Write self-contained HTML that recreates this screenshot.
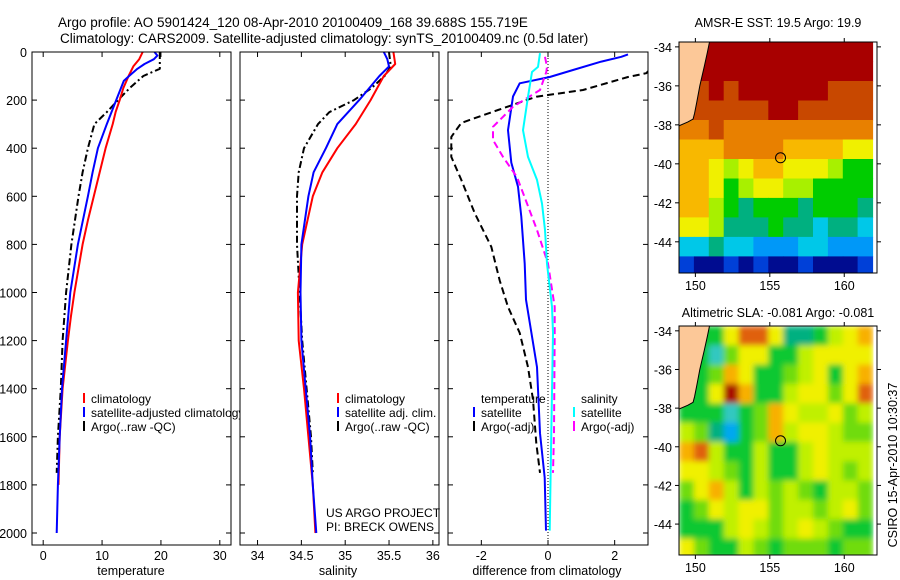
<!DOCTYPE html>
<html><head><meta charset="utf-8">
<style>
html,body{margin:0;padding:0;background:#fff;}
svg{display:block;font-family:"Liberation Sans",sans-serif;}
</style></head>
<body>
<svg id="fig" width="900" height="580" viewBox="0 0 900 580" xmlns="http://www.w3.org/2000/svg">
<defs>
<filter id="smooth" x="0" y="0" width="1" height="1" filterUnits="objectBoundingBox"><feGaussianBlur stdDeviation="3" edgeMode="duplicate"/></filter>
</defs>
<text x="58" y="27" font-size="13.5">Argo profile: AO 5901424_120 08-Apr-2010 20100409_168 39.688S 155.719E</text>
<text x="60" y="43" font-size="13.5">Climatology: CARS2009. Satellite-adjusted climatology: synTS_20100409.nc (0.5d later)</text>
<text x="778" y="27" font-size="12.5" text-anchor="middle">AMSR-E SST: 19.5 Argo: 19.9</text>
<text x="778" y="317" font-size="12.5" text-anchor="middle">Altimetric SLA: -0.081 Argo: -0.081</text>
<text transform="translate(897,465) rotate(-90)" font-size="12.5" text-anchor="middle">CSIRO 15-Apr-2010 10:30:37</text>
</svg>
<script>
// ---------- data ----------
const depthTicks=[0,200,400,600,800,1000,1200,1400,1600,1800,2000];
const tempTicks=[0,10,20,30];
const salTicks=[34,34.5,35,35.5,36];
const diffTicks=[-2,0,2];
const tempClimD=[0,30,60,100,150,200,250,300,400,500,600,700,800,900,1000,1100,1200,1400,1600,1800];
const tempClimV=[16.9,16.3,15.3,14.5,13.6,13.0,12.3,11.8,10.6,9.6,8.6,7.6,6.7,6.0,5.3,4.7,4.2,3.3,2.8,2.6];
const tempSatD=[0,15,30,50,70,100,120,200,300,400,500,600,800,1000,1200,1400,1600,1800,2000];
const tempSatV=[18.9,19.4,18.8,17.2,16.0,14.6,13.7,12.4,10.8,9.3,8.4,7.6,5.9,4.6,3.9,3.2,2.8,2.5,2.3];
const tempArgoD=[0,70,100,150,200,250,300,400,500,600,800,1000,1200,1400,1600,1750];
const tempArgoV=[19.8,19.8,17.0,14.7,12.7,10.8,8.7,7.6,6.7,6.0,4.8,3.9,3.3,3.0,2.5,2.3];
const salClimD=[0,50,100,200,300,400,500,600,700,800,1000,1200,1400,1600,1800,2000];
const salClimV=[35.55,35.57,35.44,35.29,35.12,34.91,34.74,34.63,34.57,34.51,34.46,34.47,34.53,34.58,34.63,34.66];
const salSatD=[0,30,60,100,200,300,400,500,600,700,800,1000,1200,1400,1600,1800,2000];
const salSatV=[35.44,35.48,35.5,35.39,35.16,34.91,34.78,34.64,34.58,34.54,34.5,34.49,34.5,34.55,34.6,34.63,34.67];
const salArgoD=[0,60,100,150,200,250,300,400,500,600,800,1000,1200,1400,1600,1750];
const salArgoV=[35.5,35.52,35.45,35.3,35.1,34.82,34.69,34.53,34.47,34.45,34.45,34.48,34.51,34.56,34.61,34.63];
const dTempSatD=[10,20,40,75,104,130,185,325,460,560,685,880,1030,1310,1585,1770,1990];
const dTempSatV=[2.4,2.2,1.6,0.75,0.05,-0.85,-1.05,-1.2,-1.1,-0.9,-0.8,-0.7,-0.66,-0.33,-0.24,-0.1,-0.06];
const dTempArgoD=[0,50,88,104,158,186,241,295,353,436,532,670,810,950,1060,1168,1310,1446,1627,1750];
const dTempArgoV=[3.4,3.2,2.95,2.4,1.05,-0.35,-1.5,-2.6,-2.9,-2.9,-2.6,-2.2,-1.7,-1.45,-1.2,-0.85,-0.6,-0.45,-0.35,-0.24];
const dSalSatD=[5,62,83,186,325,436,532,630,740,880,1060,1168,1585,1990];
const dSalSatV=[-0.24,-0.3,-0.48,-0.6,-0.75,-0.6,-0.33,-0.18,-0.09,-0.03,0.12,0.15,0.1,0.05];
const dSalArgoD=[20,62,83,158,228,311,366,436,520,630,740,880,1060,1168,1585,1750];
const dSalArgoV=[-0.09,-0.03,-0.05,-0.24,-1.05,-1.65,-1.65,-1.35,-0.93,-0.63,-0.33,0,0.2,0.2,0.18,0.15];
// maps: 13 cols (1 deg from 148.9E), 12 rows (1 deg from 33.75S)
const sstGrid=[
[11,11,11,11,11,11,11,11,11,11,11,11,11],
[11,11,11,11,11,11,11,11,11,11,11,11,11],
[11,10,11,10,11,11,11,11,11,11,10,10,10],
[10,10,10,10,10,10,11,11,10,10,10,10,10],
[9,9,10,9,9,9,9,9,9,9,9,9,9],
[8,8,8,9,9,9,9,8,8,8,8,7,7],
[8,8,7,6,7,8,8,7,7,7,6,5,5],
[8,8,7,5,6,7,7,6,6,5,5,5,5],
[8,8,6,5,4,5,5,5,4,5,5,5,4],
[7,7,6,4,4,4,5,4,4,3,4,4,3],
[3,3,4,3,3,2,2,2,3,3,2,2,2],
[1,0,0,1,0,1,0,0,1,0,0,0,1]];
const sstColors=["#000c90","#0040d8","#0098f8","#00c8e8","#00b080","#00cc00","#a8f000","#f0f000","#f8b800","#e88000","#c84800","#a80000"];
const slaGrid=[
[3,3,3,6,8,8,6,2,2,3,5,6,7],
[3,3,1,4,6,6,3,3,5,6,6,6,6],
[3,3,4,7,6,3,3,4,5,6,3,6,7],
[3,3,6,9,7,3,3,5,6,6,4,6,8],
[3,3,3,1,3,4,7,6,5,5,6,4,5],
[5,4,2,0,3,4,7,5,6,6,5,4,4],
[7,8,5,3,3,5,3,3,5,6,5,5,5],
[6,6,5,4,3,5,3,3,5,6,5,4,5],
[4,6,7,5,3,5,4,5,4,3,5,5,4],
[3,4,6,5,6,6,4,5,5,4,5,6,4],
[3,3,3,5,6,5,4,5,6,5,4,3,3],
[6,4,3,3,5,4,3,4,4,4,3,4,4]];
const slaColors=["#00a8f0","#30c8c0","#00b080","#10c830","#70dc10","#c0f000","#f0f000","#f8b000","#e06010","#a81000"];
const coastLon=[150.95,150.8,150.6,150.3,150.1,149.95,149.85,149.5,148.9];
const coastLat=[-33.75,-34.3,-35.0,-36.0,-36.8,-37.4,-37.7,-37.85,-38.05];
const argoLon=155.72, argoLat=-39.69;

// ---------- drawing ----------
const NS="http://www.w3.org/2000/svg";
const svg=document.getElementById('fig');
function mk(tag,attrs,parent){const e=document.createElementNS(NS,tag);for(const k in attrs)e.setAttribute(k,attrs[k]);(parent||svg).appendChild(e);return e;}
const yD=d=>52+d*0.2405;
const PANEL_TOP=52, PANEL_BOT=545;

function panel(x0,x1,xmin,xmax,name){
  const xs=v=>x0+(v-xmin)/(xmax-xmin)*(x1-x0);
  const g=mk('g',{});
  
  
  const bg=mk('rect',{x:x0,y:PANEL_TOP,width:x1-x0,height:PANEL_BOT-PANEL_TOP,fill:'#fff'},g);
  
  
  const clipId=name+'-clip';
  const cp=mk('clipPath',{id:clipId},g);
  mk('rect',{x:x0,y:PANEL_TOP,width:x1-x0,height:PANEL_BOT-PANEL_TOP},cp);
  const inner=mk('g',{'clip-path':'url(#'+clipId+')'},g);
  return {g,inner,xs,x0,x1};
}
function frame(p,xt,name){
  const r=mk('rect',{x:p.x0,y:PANEL_TOP,width:p.x1-p.x0,height:PANEL_BOT-PANEL_TOP,fill:'none',stroke:'#000','stroke-width':1},p.g);
  
  
  depthTicks.forEach(d=>{
    mk('line',{x1:p.x0,x2:p.x0+5,y1:yD(d),y2:yD(d),stroke:'#000'},p.g);
    mk('line',{x1:p.x1,x2:p.x1-5,y1:yD(d),y2:yD(d),stroke:'#000'},p.g);
  });
  xt.forEach(v=>{
    const x=p.xs(v);
    mk('line',{x1:x,x2:x,y1:PANEL_BOT,y2:PANEL_BOT-5,stroke:'#000'},p.g);
    mk('line',{x1:x,x2:x,y1:PANEL_TOP,y2:PANEL_TOP+5,stroke:'#000'},p.g);
    const t=mk('text',{x:x,y:560,'font-size':12.5,'text-anchor':'middle'},p.g);
    t.textContent=String(v);
    
    
  });
}
function line(p,D,V,color,dash,name,w){
  const pts=D.map((d,i)=>p.xs(V[i]).toFixed(1)+','+yD(d).toFixed(1)).join(' ');
  const a={points:pts,fill:'none',stroke:color,'stroke-width':w||2,'stroke-linejoin':'round'};
  if(dash)a['stroke-dasharray']=dash;
  const e=mk('polyline',a,p.inner);
  
  
}
function legend(p,x,y,color,label,name){
  const b=mk('line',{x1:x,x2:x,y1:y-10,y2:y,stroke:color,'stroke-width':2},p.g);
  
  
  const t=mk('text',{x:x+7,y:y,'font-size':12},p.g);
  t.textContent=label;
  
  
}
function txt(x,y,s,name,anchor,size){
  const t=mk('text',{x:x,y:y,'font-size':size||12.5,'text-anchor':anchor||'start'});
  t.textContent=s;
  
  
}

// depth labels
depthTicks.forEach(d=>{
  const t=mk('text',{x:27,y:yD(d)+5,'font-size':12.5,'text-anchor':'end'});
  t.textContent=String(d);
  
  
});

// panel 1 temperature
const p1=panel(32,231,-1.9,31.9,'temperature-panel');
line(p1,tempArgoD,tempArgoV,'#000','7,3,2,3','temp-argo-line');
line(p1,tempClimD,tempClimV,'#ff0000',null,'temp-climatology-line');
line(p1,tempSatD,tempSatV,'#0000ff',null,'temp-satellite-line');
legend(p1,84,403,'#ff0000','climatology','legend-entry-climatology');
legend(p1,84,417,'#0000ff','satellite-adjusted climatology','legend-entry-satellite-adjusted');
legend(p1,84,431,'#000','Argo(..raw -QC)','legend-entry-argo');
frame(p1,tempTicks,'temperature-panel');

// panel 2 salinity
const p2=panel(240,439,33.8,36.07,'salinity-panel');
line(p2,salArgoD,salArgoV,'#000','7,3,2,3','sal-argo-line');
line(p2,salClimD,salClimV,'#ff0000',null,'sal-climatology-line');
line(p2,salSatD,salSatV,'#0000ff',null,'sal-satellite-line');
legend(p2,338,403,'#ff0000','climatology','legend-entry-sal-climatology');
legend(p2,338,417,'#0000ff','satellite adj. clim.','legend-entry-sal-satellite');
legend(p2,338,431,'#000','Argo(..raw -QC)','legend-entry-sal-argo');
frame(p2,salTicks,'salinity-panel');
txt(326,517,'US ARGO PROJECT','credit-project','start',12);
txt(326,531,'PI: BRECK OWENS','credit-pi','start',12);

// panel 3 difference
const p3=panel(448,648,-3,3,'difference-panel');
const zl=mk('line',{x1:p3.xs(0),x2:p3.xs(0),y1:PANEL_TOP,y2:PANEL_BOT,stroke:'#000','stroke-dasharray':'1,2'},p3.inner);


line(p3,dTempArgoD,dTempArgoV,'#000','7,4','diff-temp-argo-line');
line(p3,dTempSatD,dTempSatV,'#0000ff',null,'diff-temp-satellite-line');
line(p3,dSalArgoD,dSalArgoV,'#ff00ff','7,4','diff-sal-argo-line');
line(p3,dSalSatD,dSalSatV,'#00ffff',null,'diff-sal-satellite-line');
const lt=mk('text',{x:481,y:403,'font-size':12},p3.g);lt.textContent='temperature';


legend(p3,474,417,'#0000ff','satellite','legend-entry-diff-temp-satellite');
legend(p3,474,431,'#000','Argo(-adj)','legend-entry-diff-temp-argo');
const ls=mk('text',{x:581,y:403,'font-size':12},p3.g);ls.textContent='salinity';


legend(p3,574,417,'#00ffff','satellite','legend-entry-diff-sal-satellite');
legend(p3,574,431,'#ff00ff','Argo(-adj)','legend-entry-diff-sal-argo');
frame(p3,diffTicks,'difference-panel');

txt(131,575,'temperature','x-axis-title-temperature','middle');
txt(338,575,'salinity','x-axis-title-salinity','middle');
txt(547,575,'difference from climatology','x-axis-title-difference','middle');

// maps
function drawMap(top,bot,grid,colors,name,smooth){
  const L=679,R=877,lon0=148.9,lon1=162.2,lat0=-33.75,lat1=-45.6;
  const xs=lo=>L+(lo-lon0)/(lon1-lon0)*(R-L);
  const ys=la=>top+(la-lat0)/(lat1-lat0)*(bot-top);
  const g=mk('g',{});
  
  
  const cid=name+'-clip';
  const cp=mk('clipPath',{id:cid},g);
  mk('rect',{x:L,y:top,width:R-L,height:bot-top},cp);
  const inner=mk('g',{'clip-path':'url(#'+cid+')'},g);
  const cells=mk('g',smooth?{filter:'url(#smooth)'}:{},inner);
  grid.forEach((row,r)=>row.forEach((v,c)=>{
    const x=xs(lon0+c),y=ys(lat0-r);
    const cell=mk('rect',{x:x.toFixed(1),y:y.toFixed(1),width:(xs(lon0+c+1)-x+0.6).toFixed(1),height:(ys(lat0-r-1)-y+0.6).toFixed(1),fill:colors[v]},cells);
    
    
  }));
  let pts=coastLon.map((lo,i)=>xs(lo).toFixed(1)+','+ys(coastLat[i]).toFixed(1));
  const land=mk('polygon',{points:pts.join(' ')+' '+xs(lon0)+','+ys(lat0),fill:'#fcc898',stroke:'#000','stroke-width':1},inner);
  
  
  const mkr=mk('circle',{cx:xs(argoLon),cy:ys(argoLat),r:5,fill:'none',stroke:'#000'},inner);
  
  
  mk('rect',{x:L,y:top,width:R-L,height:bot-top,fill:'none',stroke:'#000'},g);
  [150,155,160].forEach(lo=>{
    const x=xs(lo);
    mk('line',{x1:x,x2:x,y1:top,y2:top-4,stroke:'#000'},g);
    mk('line',{x1:x,x2:x,y1:bot,y2:bot+4,stroke:'#000'},g);
    const t=mk('text',{x:x,y:bot+17,'font-size':12.5,'text-anchor':'middle'},g);
    t.textContent=String(lo);
    
    
  });
  [-34,-36,-38,-40,-42,-44].forEach(la=>{
    const y=ys(la);
    mk('line',{x1:L,x2:L-4,y1:y,y2:y,stroke:'#000'},g);
    mk('line',{x1:R,x2:R+4,y1:y,y2:y,stroke:'#000'},g);
    const t=mk('text',{x:672,y:y+5,'font-size':12.5,'text-anchor':'end'},g);
    t.textContent=String(la);
    
    
  });
}
drawMap(42,273,sstGrid,sstColors,'sst-map',false);
drawMap(326,555,slaGrid,slaColors,'sla-map',true);
</script>
</body></html>
